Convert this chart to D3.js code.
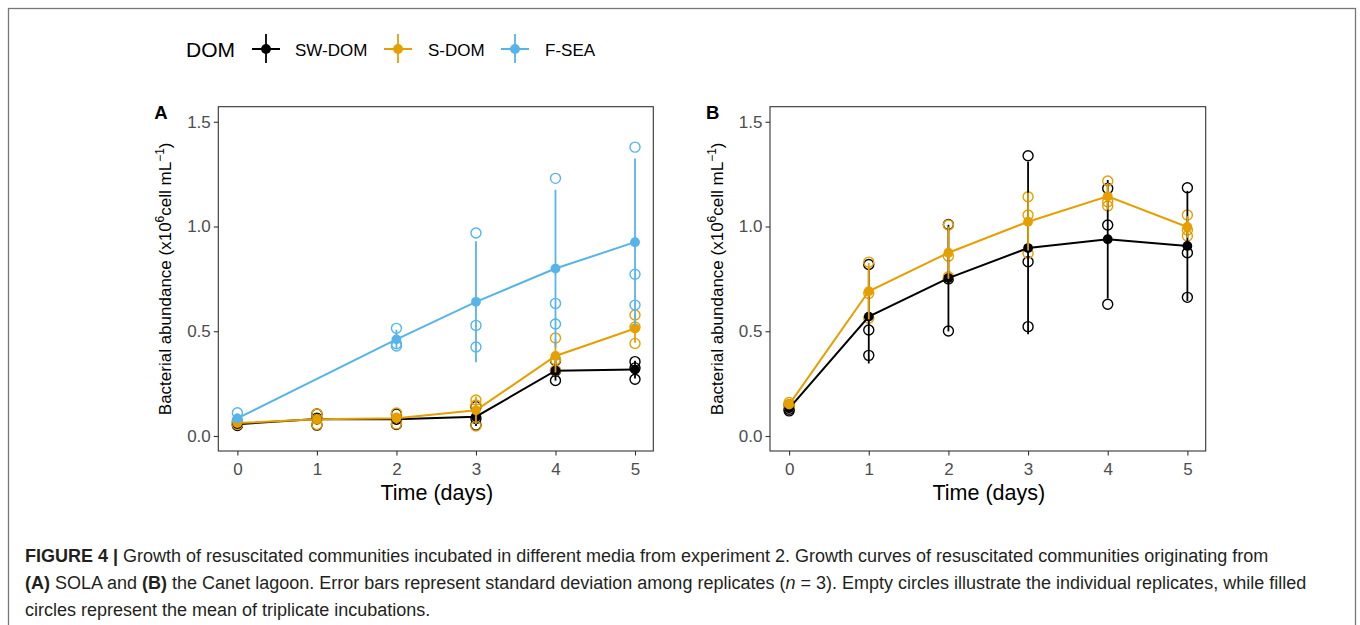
<!DOCTYPE html>
<html>
<head>
<meta charset="utf-8">
<script src="https://cdn.jsdelivr.net/npm/d3@7"></script>
<style>
  html, body { margin: 0; padding: 0; background: #fff; }
  svg { display: block; font-family: "Liberation Sans", Arial, sans-serif; }
</style>
</head>
<body>
<svg id="chart" width="1360" height="625"></svg>
<script>
// ---------------- DATA ----------------
const days = [0, 1, 2, 3, 4, 5];
const seriesNames = ["SW-DOM", "S-DOM", "F-SEA"];
const seriesColors = ["#000000", "#E69F00", "#56B4E9"];
const yTickValues = [0, 0.5, 1.0, 1.5];

// Panel A (SOLA) replicate values per day (x10^6 cells/mL); null = not measured
const swdomA = [[0.050, 0.055, 0.065], [0.105, 0.085, 0.052], [0.105, 0.080, 0.055], [0.140, 0.084, 0.052], [0.360, 0.310, 0.265], [0.355, 0.325, 0.271]];
const sdomA  = [[0.055, 0.060, 0.070], [0.105, 0.080, 0.055], [0.110, 0.085, 0.058], [0.172, 0.148, 0.048], [0.468, 0.364, 0.314], [0.578, 0.520, 0.442]];
const fseaA  = [[0.111, 0.075, 0.066], null, [0.514, 0.440, 0.430], [0.969, 0.528, 0.425], [1.230, 0.633, 0.535], [1.379, 0.772, 0.625]];

// Panel B (Canet lagoon)
const swdomB = [[0.120, 0.128, 0.148], [0.819, 0.506, 0.385], [1.010, 0.750, 0.501], [1.338, 0.832, 0.522], [1.182, 1.007, 0.629], [1.185, 0.875, 0.662]];
const sdomB  = [[0.140, 0.150, 0.160], [0.830, 0.681, 0.562], [1.007, 0.858, 0.760], [1.142, 1.055, 0.872], [1.217, 1.118, 1.098], [1.055, 0.983, 0.955]];

const captionLines = [
  [["FIGURE 4 |", "b"], [" Growth of resuscitated communities incubated in different media from experiment 2. Growth curves of resuscitated communities originating from", ""]],
  [["(A)", "b"], [" SOLA and ", ""], ["(B)", "b"], [" the Canet lagoon. Error bars represent standard deviation among replicates (", ""], ["n", "i"], [" = 3). Empty circles illustrate the individual replicates, while filled", ""]],
  [["circles represent the mean of triplicate incubations.", ""]]
];

// ---------------- DRAW ----------------
const svg = d3.select("#chart");

// outer figure frame
svg.append("rect").attr("x", 8.5).attr("y", 8.5).attr("width", 1347).attr("height", 700)
  .attr("fill", "none").attr("stroke", "#777").attr("stroke-width", 1.3);

const pTop = 106.7, pBottom = 451;
const y = d3.scaleLinear().domain([-0.0716, 1.572]).range([pBottom, pTop]);

function drawPanel(left, right, label, seriesList) {
  const x = d3.scaleLinear().domain([-0.24, 5.23]).range([left, right]);
  const g = svg.append("g");

  const ya = g.append("g").attr("transform", `translate(${left},0)`)
    .call(d3.axisLeft(y).tickValues(yTickValues).tickFormat(d3.format(".1f")).tickSize(4.5).tickPadding(3));
  const xa = g.append("g").attr("transform", `translate(0,${pBottom})`)
    .call(d3.axisBottom(x).tickValues(days).tickFormat(d3.format("d")).tickSize(4.5).tickPadding(7.5));
  [ya, xa].forEach(a => {
    a.select(".domain").remove();
    a.selectAll(".tick line").attr("stroke", "#333").attr("stroke-width", 1.1);
    a.selectAll(".tick text").attr("fill", "#4D4D4D").style("font-size", "17px")
      .style("font-family", "'Liberation Sans', Arial, sans-serif");
  });

  g.append("rect").attr("x", left).attr("y", pTop).attr("width", right - left).attr("height", pBottom - pTop)
    .attr("fill", "none").attr("stroke", "#333").attr("stroke-width", 1.1);

  g.append("text").attr("x", (left + right) / 2 + 1).attr("y", 500).attr("text-anchor", "middle")
    .style("font-size", "21.5px").attr("fill", "#000").text("Time (days)");
  const yt = g.append("text").attr("transform", `translate(${left - 47.5},${(pTop + pBottom) / 2}) rotate(-90)`)
    .attr("text-anchor", "middle").style("font-size", "17px").attr("fill", "#000");
  yt.append("tspan").text("Bacterial abundance (x10");
  yt.append("tspan").attr("dy", -6.5).style("font-size", "12px").text("6");
  yt.append("tspan").attr("dy", 6.5).text("cell mL");
  yt.append("tspan").attr("dy", -6.5).style("font-size", "12px").text("\u22121");
  yt.append("tspan").attr("dy", 6.5).text(")");

  g.append("text").attr("x", left - 64).attr("y", 119).style("font-size", "18.5px")
    .style("font-weight", "bold").attr("fill", "#000").text(label);

  const prepared = seriesList.map(s => {
    const pts = [];
    s.reps.forEach((r, i) => { if (r) pts.push({ day: days[i], reps: r, mean: d3.mean(r), sd: d3.deviation(r) }); });
    return { color: s.color, pts };
  });

  const plot = g.append("g");
  prepared.forEach(s => {
    const reps = s.pts.flatMap(p => p.reps.map(v => ({ day: p.day, v })));
    plot.append("g").selectAll("circle").data(reps).join("circle")
      .attr("cx", d => x(d.day)).attr("cy", d => y(d.v)).attr("r", 5)
      .attr("fill", "none").attr("stroke", s.color).attr("stroke-width", 1.4);
  });
  const line = d3.line().x(d => x(d.day)).y(d => y(d.mean));
  prepared.forEach(s => {
    plot.append("path").datum(s.pts).attr("d", line).attr("fill", "none")
      .attr("stroke", s.color).attr("stroke-width", 2);
  });
  prepared.forEach(s => {
    const pr = plot.append("g");
    pr.selectAll("line").data(s.pts).join("line")
      .attr("x1", d => x(d.day)).attr("x2", d => x(d.day))
      .attr("y1", d => y(d.mean - d.sd)).attr("y2", d => y(d.mean + d.sd))
      .attr("stroke", s.color).attr("stroke-width", 1.8);
    pr.selectAll("circle").data(s.pts).join("circle")
      .attr("cx", d => x(d.day)).attr("cy", d => y(d.mean)).attr("r", 4.9)
      .attr("fill", s.color);
  });
}

drawPanel(218.3, 653.3, "A", [
  { reps: swdomA, color: seriesColors[0] },
  { reps: sdomA, color: seriesColors[1] },
  { reps: fseaA, color: seriesColors[2] }
]);
drawPanel(770, 1205.7, "B", [
  { reps: swdomB, color: seriesColors[0] },
  { reps: sdomB, color: seriesColors[1] }
]);

// legend
const lg = svg.append("g");
lg.append("text").attr("x", 186).attr("y", 56.5).style("font-size", "21px").attr("fill", "#000").text("DOM");
const keyX = [266, 398, 515];
const labX = [295, 428, 545];
seriesNames.forEach((n, i) => {
  const k = lg.append("g");
  k.append("line").attr("x1", keyX[i] - 14).attr("x2", keyX[i] + 14).attr("y1", 49).attr("y2", 49)
    .attr("stroke", seriesColors[i]).attr("stroke-width", 2);
  k.append("line").attr("x1", keyX[i]).attr("x2", keyX[i]).attr("y1", 34).attr("y2", 63)
    .attr("stroke", seriesColors[i]).attr("stroke-width", 1.8);
  k.append("circle").attr("cx", keyX[i]).attr("cy", 49).attr("r", 4.9).attr("fill", seriesColors[i]);
  lg.append("text").attr("x", labX[i]).attr("y", 55.5).style("font-size", "17px").attr("fill", "#000").text(n);
});

// caption
const capY = [562, 589, 616];
captionLines.forEach((ln, i) => {
  const t = svg.append("text").attr("x", 25).attr("y", capY[i]).style("font-size", "18px").attr("fill", "#231F20");
  ln.forEach(([s, st]) => {
    const sp = t.append("tspan").text(s);
    if (st === "b") sp.style("font-weight", "bold");
    if (st === "i") sp.style("font-style", "italic");
  });
});
</script>
</body>
</html>
